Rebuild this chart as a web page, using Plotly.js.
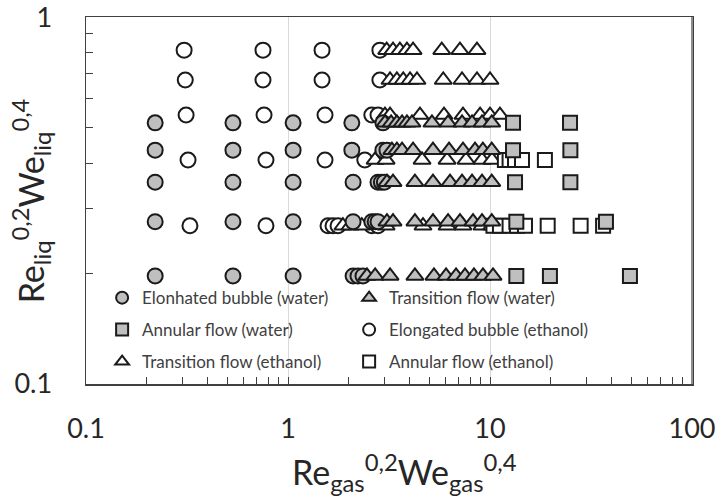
<!DOCTYPE html>
<html><head><meta charset="utf-8">
<script src="https://cdn.plot.ly/plotly-3.0.1.min.js"></script>
<style>html,body{margin:0;padding:0;background:#fff}#chart{width:717px;height:497px}</style>
</head><body><div id="chart"></div>
<script>
// ---- data ----
const waterBubbleX = [0.22,0.534,1.06,2.07,2.95, 0.22,0.534,1.06,2.07,2.95,3.09, 0.22,0.534,1.06,2.10,2.79,2.90,3.0, 0.22,0.534,1.06,2.10,2.60,2.70,2.79, 0.22,0.534,1.06,2.10,2.22,2.35];
const waterBubbleY = [0.515,0.515,0.515,0.515,0.515, 0.434,0.434,0.434,0.434,0.434,0.434, 0.355,0.355,0.355,0.355,0.355,0.355,0.355, 0.277,0.277,0.277,0.277,0.277,0.277,0.277, 0.197,0.197,0.197,0.197,0.197,0.197];

const waterTransX = [3.02,3.24,3.46,3.67,3.88,4.11,5.16,6.20,7.27,8.15,9.13,10.2,
                     3.27,3.46,3.67,4.16,5.22,6.27,7.35,8.43,9.22,10.2,
                     3.09,3.31,4.25,5.22,6.34,7.27,8.15,9.13,10.2,
                     3.09,3.31,4.25,5.22,6.20,7.10,8.24,9.13,10.2,
                     2.46,2.70,3.20,4.25,5.28,6.06,6.79,7.52,8.33,9.23,10.35];
const waterTransY = [0.515,0.515,0.515,0.515,0.515,0.515,0.515,0.515,0.515,0.515,0.515,0.515,
                     0.434,0.434,0.434,0.434,0.434,0.434,0.434,0.434,0.434,0.434,
                     0.355,0.355,0.355,0.355,0.355,0.355,0.355,0.355,0.355,
                     0.277,0.277,0.277,0.277,0.277,0.277,0.277,0.277,0.277,
                     0.197,0.197,0.197,0.197,0.197,0.197,0.197,0.197,0.197,0.197,0.197];

const waterAnnularX = [13.0,24.9, 13.0,25.0, 13.3,25.0, 13.5,37.5, 13.5,19.8,49.3];
const waterAnnularY = [0.515,0.515, 0.434,0.434, 0.355,0.355, 0.277,0.277, 0.197,0.197,0.197];

const ethBubbleX = [0.306,0.752,1.474,2.85, 0.31,0.752,1.474,2.85, 0.313,0.761,1.525,2.60,2.79, 0.32,0.778,1.525,2.40, 0.327,0.778,1.578,1.67,1.769,2.6,2.79];
const ethBubbleY = [0.813,0.813,0.813,0.813, 0.674,0.674,0.674,0.674, 0.541,0.541,0.541,0.541,0.541, 0.408,0.408,0.408,0.408, 0.270,0.270,0.270,0.270,0.270,0.270,0.270];

const ethTransX = [3.08,3.31,3.58,3.88,4.16,5.77,7.10,8.62,
                   3.20,3.46,3.72,4.02,4.35,5.87,7.27,8.62,10.0,
                   3.02,3.20,4.50,5.92,7.35,8.93,10.0,11.2,
                   2.70,3.06,4.61,6.13,7.61,9.13,10.23,
                   1.87,2.03,2.32,3.06,4.66,6.13,7.35,9.13,10.2];
const ethTransY = [0.813,0.813,0.813,0.813,0.813,0.813,0.813,0.813,
                   0.674,0.674,0.674,0.674,0.674,0.674,0.674,0.674,0.674,
                   0.541,0.541,0.541,0.541,0.541,0.541,0.541,0.541,
                   0.408,0.408,0.408,0.408,0.408,0.408,0.408,
                   0.270,0.270,0.270,0.270,0.270,0.270,0.270,0.270,0.270];

const ethAnnularX = [11.85,12.5,13.3,14.4,18.7, 10.4,11.2,12.5,13.6,14.9,19.3,28.1,36.3];
const ethAnnularY = [0.408,0.408,0.408,0.408,0.408, 0.270,0.270,0.270,0.270,0.270,0.270,0.270,0.270];

const seriesNames = ['Elonhated bubble (water)','Transition flow (water)','Annular flow (water)',
                     'Elongated bubble (ethanol)','Transition flow (ethanol)','Annular flow (ethanol)'];
const xTitle = 'Re<sub>gas</sub><sup>0,2</sup>We<sub>gas</sub><sup>0,4</sup>';
const yTitle = 'Re<sub>liq</sub><sup>0,2</sup>We<sub>liq</sub><sup>0,4</sup>';
const xTickVals = [0.1,1,10,100];
const xTickText = ['0.1','1','10','100'];
const xMinorVals = [0.2,0.3,0.4,0.5,0.6,0.7,0.8,0.9,2,3,4,5,6,7,8,9,20,30,40,50,60,70,80,90];
const yTickVals = [0.1,1];
const yTickText = ['0.1','1'];
const yMinorVals = [0.2,0.3,0.4,0.5,0.6,0.7,0.8,0.9];

// ---- styling ----
const GRAY = '#bfbfbf', EDGE = '#1a1a1a';
function mk(x, y, name, symbol, fill, size, legendId, rank) {
  return {x: x, y: y, name: name, type: 'scatter', mode: 'markers', legend: legendId, legendrank: rank,
    marker: {symbol: symbol, size: size, color: fill, line: {color: EDGE, width: 2}}};
}
const traces = [
  mk(waterBubbleX, waterBubbleY, seriesNames[0], 'circle', GRAY, 15, 'legend', 1),
  mk(waterTransX, waterTransY, seriesNames[1], 'triangle-up', GRAY, 15, 'legend', 2),
  mk(waterAnnularX, waterAnnularY, seriesNames[2], 'square', GRAY, 14, 'legend2', 3),
  mk(ethBubbleX, ethBubbleY, seriesNames[3], 'circle', '#ffffff', 15, 'legend2', 4),
  mk(ethTransX, ethTransY, seriesNames[4], 'triangle-up', '#ffffff', 15, 'legend3', 5),
  mk(ethAnnularX, ethAnnularY, seriesNames[5], 'square', '#ffffff', 14, 'legend3', 6)
];
// draw order: ethanol under water where overlapping
const drawOrder = [traces[3], traces[4], traces[5], traces[0], traces[1], traces[2]];

const legendFont = {family: 'Lato, sans-serif', size: 17, color: '#404040'};
function leg(y) {
  return {orientation: 'h', x: 0.0266, xanchor: 'left', y: y, yanchor: 'middle',
    entrywidth: 202, entrywidthmode: 'pixels', font: legendFont,
    bgcolor: 'rgba(0,0,0,0)', itemsizing: 'constant', traceorder: 'normal', itemclick: false};
}
const tickFont = {family: 'Lato, sans-serif', size: 27, color: '#262626'};
const titleFont = {family: 'Lato, sans-serif', size: 34, color: '#262626'};

const layout = {
  width: 717, height: 497,
  margin: {l: 86, r: 25, t: 17, b: 113},
  paper_bgcolor: '#ffffff', plot_bgcolor: '#ffffff',
  showlegend: true,
  legend: leg(0.234), legend2: leg(0.147), legend3: leg(0.06),
  xaxis: {type: 'log', range: [-1, 2], tickmode: 'array', tickvals: xTickVals, ticktext: xTickText,
    showgrid: true, gridcolor: '#d9d9d9', gridwidth: 1,
    ticks: 'inside', ticklen: 7, tickcolor: '#404040', tickwidth: 1,
    showline: true, linecolor: '#404040', linewidth: 1.5, mirror: true, zeroline: false,
    tickfont: tickFont, ticklabelstandoff: 20, ticklabeloverflow: 'allow',
    minor: {tickmode: 'array', tickvals: xMinorVals, ticks: 'inside', ticklen: 7, tickcolor: '#404040', showgrid: false}},
  yaxis: {type: 'log', range: [-1, 0.0004], tickmode: 'array', tickvals: yTickVals, ticktext: yTickText,
    showgrid: false, ticks: 'inside', ticklen: 7, tickcolor: '#404040', tickwidth: 1,
    showline: true, linecolor: '#404040', linewidth: 1.5, mirror: true, zeroline: false,
    tickfont: tickFont, ticklabelstandoff: 27, ticklabeloverflow: 'allow',
    minor: {tickmode: 'array', tickvals: yMinorVals, ticks: 'inside', ticklen: 7, tickcolor: '#404040', showgrid: false}},
  annotations: [
    {text: xTitle, xref: 'paper', yref: 'paper', x: 0.526, y: -0.24, xanchor: 'center', yanchor: 'middle',
     showarrow: false, font: titleFont},
    {text: yTitle, textangle: -90, xref: 'paper', yref: 'paper', x: -0.091, y: 0.5, xanchor: 'center', yanchor: 'middle',
     showarrow: false, font: titleFont}],
  shapes: [{type: 'line', xref: 'paper', yref: 'paper', x0: 1, x1: 1, y0: 0, y1: 1,
    line: {color: '#8c8c8c', width: 2}, layer: 'above'}]
};

Plotly.newPlot('chart', drawOrder, layout, {staticPlot: true, displayModeBar: false});
</script></body></html>
